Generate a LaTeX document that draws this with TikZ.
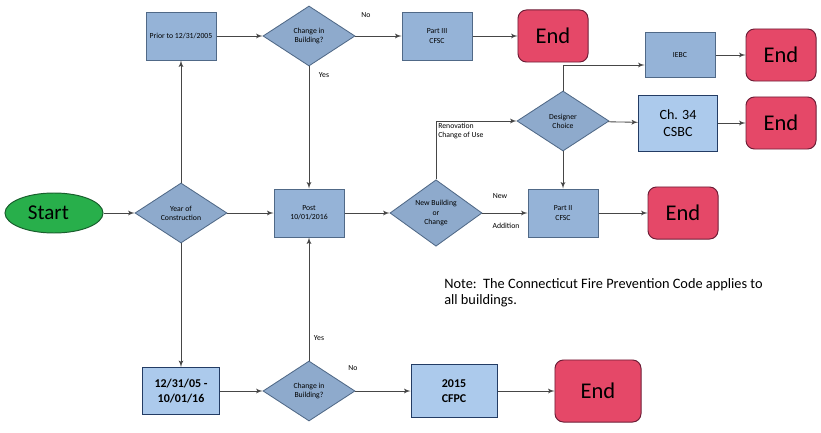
\documentclass[tikz,border=0pt]{standalone}
\usepackage{fontspec}
\setmainfont{Carlito}
\usetikzlibrary{arrows,shapes.geometric,shadows,calc}

\definecolor{boxblue}{RGB}{149,179,215}
\definecolor{boxline}{RGB}{80,105,135}
\definecolor{paleblue}{RGB}{172,202,236}
\definecolor{paleline}{RGB}{35,60,100}
\definecolor{endred}{RGB}{229,72,104}
\definecolor{endline}{RGB}{110,30,55}
\definecolor{startgreen}{RGB}{40,175,75}
\definecolor{startline}{RGB}{25,95,45}
\definecolor{wire}{RGB}{70,70,70}

\tikzset{
  tiny/.style={font=\fontsize{5.5}{6.5}\selectfont},
  box/.style={tiny, draw=boxline, fill=boxblue, line width=0.7pt, align=center,
    minimum width=1.75cm, minimum height=1.2cm, inner sep=1pt,
    drop shadow={shadow xshift=0.6pt, shadow yshift=-0.6pt, opacity=0.5}},
  lightbox/.style={draw=paleline, fill=paleblue, line width=0.7pt, align=center,
    font=\fontsize{8.5}{10.5}\selectfont\bfseries, inner sep=1pt,
    drop shadow={shadow xshift=0.6pt, shadow yshift=-0.6pt, opacity=0.3}},
  decision/.style={tiny, diamond, draw=boxline, fill=boxblue!95!black, line width=0.6pt,
    align=center, minimum width=2.3cm, minimum height=1.5cm, inner sep=0pt},
  term/.style={draw=endline, fill=endred, line width=0.7pt, rounded corners=6pt,
    font=\fontsize{16}{18}\selectfont, minimum width=1.75cm, minimum height=1.3cm},
  startnode/.style={ellipse, draw=startline, fill=startgreen, line width=0.7pt,
    font=\fontsize{15}{17}\selectfont, minimum width=2.45cm, minimum height=1cm},
  tag/.style={tiny, inner sep=0pt},
  wire/.style={->, draw=wire, line width=0.6pt}
}

\begin{document}
\begin{tikzpicture}[>=latex', x=0.025cm, y=-0.025cm]
\useasboundingbox (0,0) rectangle (821,433);

% middle row
\node[startnode] (start) at (54,213) {Start\kern8pt};
\node[decision] (year) at (181,213) {Year of\\Construction};
\node[box] (post) at (309,213) {Post\\10/01/2016};
\node[decision] (newb) at (436,213) {New Building\\or\\Change};
\node[box] (part2) at (563,213) {Part II\\CFSC};
\node[term] (endC) at (683,213) {End};

% top row
\node[box] (prior) at (181,36) {Prior to 12/31/2005};
\node[decision] (chgA) at (309,36) {Change in\\Building?};
\node[box] (part3) at (437,36) {Part III\\CFSC};
\node[term] (endA) at (553,36) {End};

% designer branch
\node[decision] (design) at (563,121) {Designer\\Choice};
\node[box, minimum height=1.125cm] (iebc) at (680,55) {IEBC};
\node[term] (endD) at (781,55) {End};
\node[lightbox, font=\fontsize{10}{12}\selectfont, minimum width=1.975cm, minimum height=1.4cm]
  (ch34) at (678,123) {Ch. 34\\CSBC};
\node[term] (endB) at (781,123) {End};

% bottom row
\node[lightbox, minimum width=1.925cm, minimum height=1.175cm] (early) at (181,391) {12/31/05 -\\10/01/16};
\node[decision] (chgB) at (309,391) {Change in\\Building?};
\node[lightbox, minimum width=2.15cm, minimum height=1.325cm] (cfpc) at (454,391) {2015\\CFPC};
\node[term, minimum width=2.15cm, minimum height=1.55cm] (endE) at (598,391) {End};

% labels
\node[tag] (noA) at (366,15) {No};
\node[tag] (yesA) at (324,75) {Yes};
\node[tag, anchor=north west, align=left] (reno) at (438,123) {Renovation\\Change of Use};
\node[tag] (new) at (500,196) {New};
\node[tag] (add) at (506,226) {Addition};
\node[tag] (yesB) at (319,338) {Yes};
\node[tag] (noB) at (353,368) {No};
\node[anchor=north west, align=left, inner sep=0pt, font=\fontsize{10.2}{11.5}\selectfont]
  (note) at (444,278) {Note:\ \ The Connecticut Fire Prevention Code applies to\\all buildings.};

% connectors
\draw[wire] (start) -- (year);
\draw[wire] (year) -- (prior);
\draw[wire] (year) -- (early);
\draw[wire] (year) -- (post);
\draw[wire] (prior) -- (chgA);
\draw[wire] (chgA) -- (part3);
\draw[wire] (part3) -- (endA);
\draw[wire] (chgA) -- (post);
\draw[wire] (chgB) -- (post);
\draw[wire] (post) -- (newb);
\draw[wire] (newb) -- (part2);
\draw[wire] (part2) -- (endC);
\draw[wire] (newb) |- (design);
\draw[wire] (design) -- (part2);
\draw[wire] (design) -- (ch34);
\draw[wire] (ch34) -- (endB);
\draw[wire] (design) |- ($(iebc.west)+(0,10)$);
\draw[wire] (iebc) -- (endD);
\draw[wire] (early) -- (chgB);
\draw[wire] (chgB) -- (cfpc);
\draw[wire] (cfpc) -- (endE);

\end{tikzpicture}
\end{document}
